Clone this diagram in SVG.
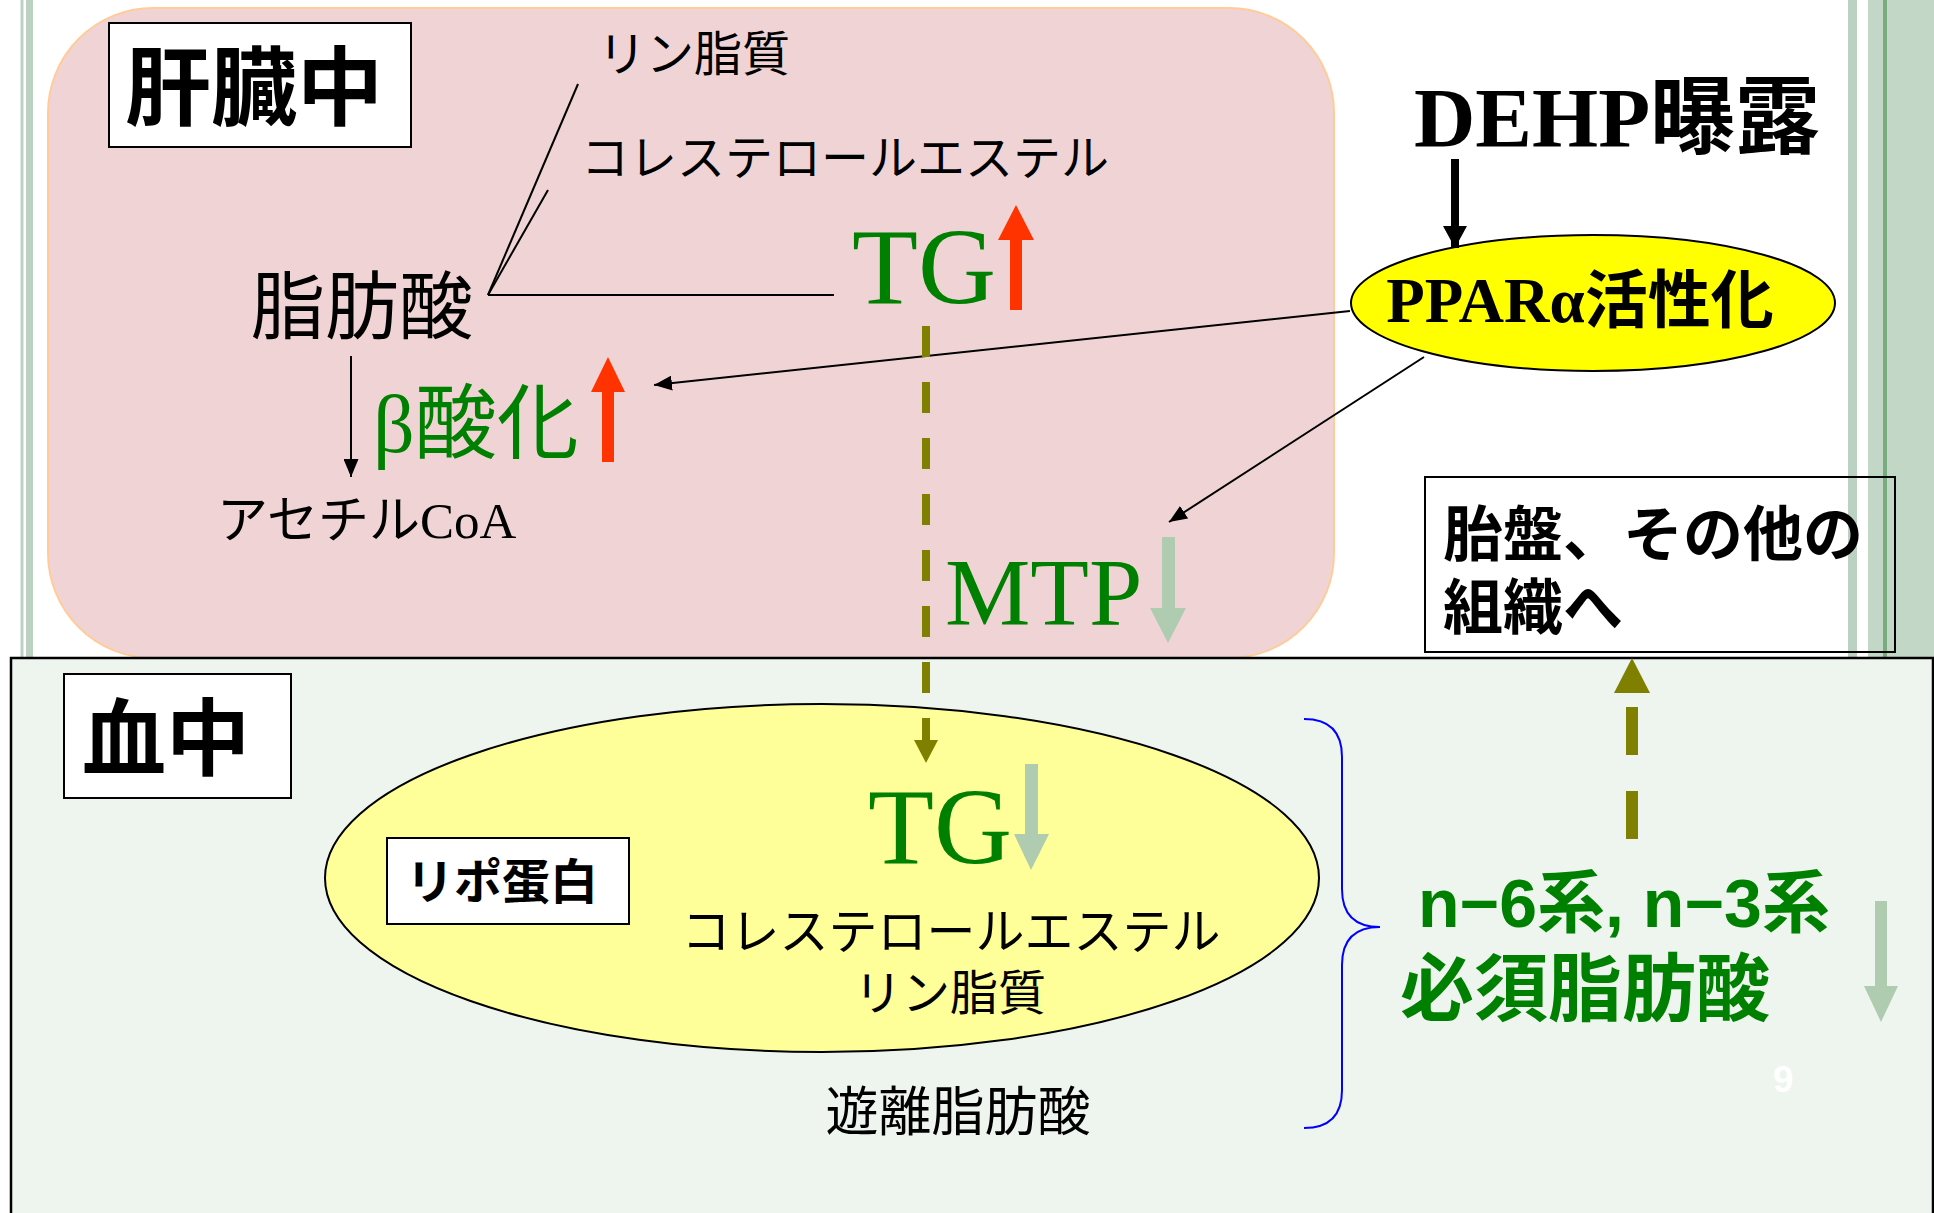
<svg xmlns="http://www.w3.org/2000/svg" width="1934" height="1213" viewBox="0 0 1934 1213">
<style>
.jp{font-family:"Noto Sans CJK JP","Noto Sans CJK SC",sans-serif;}
.jpb{font-family:"Noto Sans CJK JP","Noto Sans CJK SC",sans-serif;font-weight:bold;}
.ser{font-family:"Liberation Serif","Noto Sans CJK JP",serif;}
.serb{font-family:"Liberation Serif","Noto Sans CJK JP",serif;font-weight:bold;}
.sansb{font-family:"Liberation Sans","Noto Sans CJK JP",sans-serif;font-weight:bold;}
.green{fill:#008000;}
.blk{fill:#000000;}
.conn{stroke:#000000;stroke-width:2;fill:none;}
.box{fill:#FFFFFF;stroke:#000000;stroke-width:2;}
.up{fill:#FF3300;}
.down{fill:#AFCBB0;}
.olive{stroke:#808000;fill:none;}
.stripe{fill:#BBD1C1;}
</style>
<defs>
<marker id="ah" markerUnits="userSpaceOnUse" markerWidth="18" markerHeight="15" viewBox="0 0 18 15" refX="18" refY="7.5" orient="auto">
<path d="M0,0 L18,7.5 L0,15 z" fill="#000000"/>
</marker>
<marker id="ahBig" markerUnits="userSpaceOnUse" markerWidth="24" markerHeight="24" viewBox="0 0 22 24" refX="22" refY="12" orient="auto">
<path d="M0,0 L22,12 L0,24 z" fill="#000000"/>
</marker>
</defs>

<rect x="0" y="0" width="1934" height="1213" fill="#FFFFFF"/>

<g id="decor">
<rect class="stripe" x="20.5" y="0" width="3" height="660"/>
<rect class="stripe" x="26" y="0" width="7" height="660"/>
<rect class="stripe" x="1848" y="0" width="9" height="660"/>
<rect x="1868" y="0" width="66" height="660" fill="#C3D7C7"/>
<rect x="1883" y="0" width="4" height="660" fill="#78AB7E"/>
</g>

<g id="liver-region">
<rect x="48" y="8" width="1286" height="650" rx="105" ry="105" fill="#F0D4D5" stroke="#FFCC99" stroke-width="2"/>
</g>

<g id="blood-region">
<rect x="11" y="658" width="1922" height="570" fill="#EEF5EF" stroke="#000000" stroke-width="2.5"/>
</g>

<g id="node-liver-label">
<rect class="box" x="109" y="23" width="302" height="124"/>
<text class="jpb blk" x="125" y="119" font-size="86">肝臓中</text>
</g>

<g id="node-phospholipid-top">
<text class="jp blk" x="694" y="71" font-size="48" text-anchor="middle">リン脂質</text>
</g>

<g id="node-cholesterol-top">
<text class="jp blk" x="845" y="175" font-size="48" text-anchor="middle">コレステロールエステル</text>
</g>

<g id="node-fattyacid">
<text class="jp blk" x="362" y="333" font-size="74" text-anchor="middle">脂肪酸</text>
</g>

<g id="node-beta">
<text class="ser green" x="373" y="452" font-size="82">β酸化</text>
<polygon class="up" points="608,357 625,392 614,392 614,462 602,462 602,392 591,392"/>
</g>

<g id="node-acetylcoa">
<text class="ser blk" x="217" y="538" font-size="51">アセチルCoA</text>
</g>

<g id="node-tg-liver">
<text class="ser green" x="852" y="303" font-size="108">TG</text>
<polygon class="up" points="1016,205 1034,240 1022,240 1022,310 1010,310 1010,240 998,240"/>
</g>

<g id="node-dehp">
<text class="serb blk" x="1617" y="147" font-size="85" text-anchor="middle">DEHP曝露</text>
</g>

<g id="node-ppar">
<ellipse cx="1593" cy="303" rx="242" ry="68" fill="#FFFF00" stroke="#000000" stroke-width="2"/>
<text class="serb blk" x="1580" y="322" font-size="63" text-anchor="middle">PPARα活性化</text>
</g>

<g id="node-mtp">
<text class="ser green" x="945" y="625" font-size="96">MTP</text>
<polygon class="down" points="1162,537 1175,537 1175,608 1186,608 1168,643 1150,608 1162,608"/>
</g>

<g id="node-placenta">
<rect x="1425" y="477" width="470" height="175" fill="none" stroke="#000000" stroke-width="2"/>
<text class="jpb blk" x="1443" y="556" font-size="60">胎盤、その他の</text>
<text class="jpb blk" x="1443" y="629" font-size="60">組織へ</text>
</g>

<g id="node-blood-label">
<rect class="box" x="64" y="674" width="227" height="124"/>
<text class="jpb blk" x="82" y="769" font-size="84">血中</text>
</g>

<g id="node-lipoprotein">
<ellipse cx="822" cy="878" rx="497" ry="174" fill="#FFFF99" stroke="#000000" stroke-width="2"/>
<rect class="box" x="387" y="838" width="242" height="86"/>
<text class="jpb blk" x="502" y="899" font-size="48" text-anchor="middle">リポ蛋白</text>
<text class="ser green" x="868" y="863" font-size="108">TG</text>
<polygon class="down" points="1025,764 1038,764 1038,834 1049,834 1031,870 1014,834 1025,834"/>
<text class="jp blk" x="951" y="949" font-size="49" text-anchor="middle">コレステロールエステル</text>
<text class="jp blk" x="950" y="1010" font-size="48" text-anchor="middle">リン脂質</text>
</g>

<g id="node-free-fa">
<text class="jp blk" x="958" y="1131" font-size="53" text-anchor="middle">遊離脂肪酸</text>
</g>

<g id="node-efa">
<text class="sansb green" x="1418" y="927" font-size="68">n−6系, n−3系</text>
<text class="jpb green" x="1400" y="1015" font-size="74">必須脂肪酸</text>
<polygon class="down" points="1875,901 1887,901 1887,986 1898,986 1881,1022 1864,986 1875,986"/>
</g>

<g id="page-number">
<text class="sansb" x="1773" y="1092" font-size="37" fill="#FFFFFF">9</text>
</g>

<g id="connectors">
<line class="conn" x1="488" y1="295" x2="578" y2="84"/>
<line class="conn" x1="488" y1="295" x2="548" y2="190"/>
<line class="conn" x1="488" y1="295" x2="834" y2="295"/>
<line class="conn" x1="351" y1="356" x2="351" y2="477" marker-end="url(#ah)"/>
<line class="conn" x1="1350" y1="311" x2="654" y2="385" marker-end="url(#ah)"/>
<line class="conn" x1="1424" y1="357" x2="1169" y2="522" marker-end="url(#ah)"/>
<line x1="1455" y1="159" x2="1455" y2="248" stroke="#000000" stroke-width="8" marker-end="url(#ahBig)"/>
<line class="olive" x1="926" y1="326" x2="926" y2="742" stroke-width="8" stroke-dasharray="31 25"/>
<polygon points="914,740 938,740 926,763" fill="#808000"/>
<line class="olive" x1="1632" y1="839" x2="1632" y2="700" stroke-width="12" stroke-dasharray="48 36"/>
<polygon points="1632,658 1614,693 1650,693" fill="#808000"/>
<path d="M1304,719 Q1342,719 1342,757 L1342,889 Q1342,927 1380,927 Q1342,927 1342,965 L1342,1090 Q1342,1128 1304,1128" fill="none" stroke="#0000FF" stroke-width="2"/>
</g>
</svg>
